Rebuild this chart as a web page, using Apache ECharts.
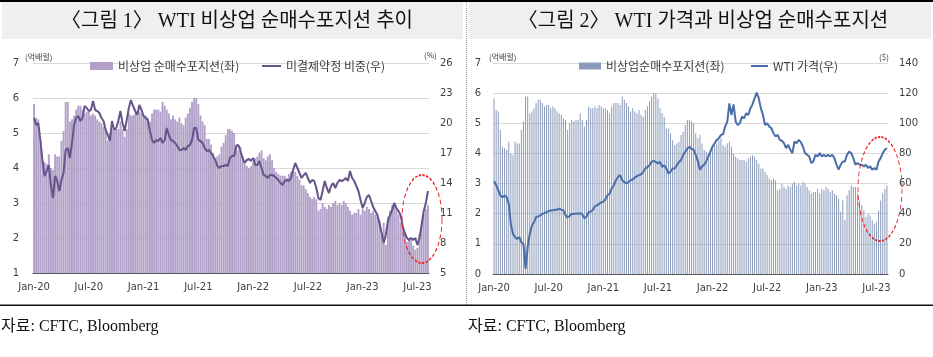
<!DOCTYPE html>
<html>
<head>
<meta charset="utf-8">
<script src="https://cdn.jsdelivr.net/npm/echarts@6/dist/echarts.min.js"></script>
<style>
html,body{margin:0;padding:0;background:#fff;}
#c{width:933px;height:357px;}
</style>
</head>
<body>
<div id="c"></div>
<script>
// ---- data (weekly, from 2020-01-07) ----
const startDate = '2020-01-07';
// 비상업 순매수포지션 (억배럴)
const netPos = [
5.83,5.44,5.39,4.78,4.22,4.17,4.11,4.39,4.00,3.94,4.39,4.33,4.33,4.78,5.06,5.89,5.89,5.33,5.39,5.50,
5.67,5.78,5.78,5.67,5.56,5.61,5.61,5.50,5.56,5.50,5.39,5.33,5.28,5.17,5.11,4.78,5.00,5.11,5.06,5.11,
5.11,5.33,5.11,4.89,5.11,5.56,5.50,5.50,5.56,5.50,5.61,5.56,5.50,5.50,5.44,5.33,5.56,5.67,5.67,5.67,
5.61,5.89,5.78,5.67,5.56,5.39,5.50,5.39,5.33,5.44,5.28,5.22,5.44,5.56,5.72,5.89,6.00,6.00,5.83,5.50,
5.33,5.22,4.83,4.83,4.67,4.44,4.28,4.33,4.39,4.61,4.72,4.94,5.11,5.11,5.06,5.00,4.67,4.50,4.61,4.33,
4.11,4.06,4.00,4.06,4.17,4.28,4.33,4.44,4.50,4.28,4.22,4.33,4.39,4.22,4.00,3.89,3.83,3.78,3.78,3.78,
3.72,3.83,3.89,3.94,3.89,3.78,3.67,3.50,3.50,3.39,3.28,3.17,3.11,3.17,3.11,2.78,2.83,3.00,2.89,2.83,
2.94,2.89,3.00,3.06,2.94,3.00,2.94,3.06,3.00,2.89,2.78,2.67,2.72,2.72,2.83,2.67,2.83,2.78,2.89,2.83,
2.72,2.78,2.67,2.61,2.50,2.07,2.44,1.80,2.61,2.78,2.94,2.89,2.89,2.67,2.44,2.28,2.11,1.89,2.00,1.94,
1.78,1.67,1.72,2.11,2.44,2.67,2.83,2.94
];
// 미결제약정 비중 (%)
const oiShare = [
20.5,19.8,20.0,18.3,16.2,14.7,15.2,15.8,13.8,12.5,14.7,14.2,13.2,14.3,15.0,17.3,17.5,16.5,18.0,19.8,
20.5,20.7,20.2,20.5,21.7,21.5,21.2,21.3,22.2,21.3,21.2,21.0,20.5,20.2,19.3,18.8,18.2,20.2,19.3,19.5,
20.2,21.2,20.0,19.2,20.3,21.5,22.3,21.7,21.2,20.8,21.8,21.3,20.7,20.5,20.3,19.2,18.3,18.0,18.3,18.2,
18.5,18.0,18.3,19.5,18.8,18.3,18.2,18.0,17.7,17.3,17.3,17.5,17.3,17.7,17.8,18.3,19.5,19.5,18.3,18.2,
18.0,17.5,17.2,17.3,17.0,16.7,16.3,15.7,15.5,15.7,15.7,15.8,15.7,16.5,16.7,16.7,17.7,17.8,17.2,16.5,
16.0,16.3,16.4,16.2,16.5,15.8,15.8,16.2,15.5,14.8,14.7,14.5,14.8,14.8,14.7,14.5,14.3,14.0,13.8,14.2,
14.3,14.2,14.5,15.3,16.0,15.5,15.0,14.5,14.8,15.0,14.5,14.0,14.3,14.2,13.5,12.5,12.3,13.2,14.2,13.5,
13.0,13.7,14.0,13.5,14.0,14.3,14.2,14.3,14.5,14.2,15.2,14.5,14.2,13.7,13.2,12.3,11.5,12.0,12.6,12.8,
12.2,11.6,11.2,10.8,10.0,9.0,8.0,8.8,10.2,10.8,11.3,12.0,11.5,11.2,10.8,9.7,9.0,8.5,8.3,8.5,
8.3,8.5,7.8,8.5,9.8,11.2,12.0,13.2
];
// WTI 가격 ($)
const wti = [
61.5,59.0,55.6,52.0,51.0,52.0,51.0,46.7,33.0,26.7,24.4,23.3,24.4,21.0,20.0,3.3,17.8,26.7,32.0,34.4,
37.8,38.2,38.9,40.0,40.4,41.0,41.8,42.2,42.2,42.7,42.7,43.3,42.7,42.2,39.0,37.5,38.5,40.0,39.8,40.2,
40.0,40.4,39.5,37.0,38.0,41.0,41.5,42.5,45.0,45.5,46.5,47.5,48.0,49.5,52.2,53.3,56.7,58.9,62.2,64.4,
65.6,62.2,61.1,60.0,61.1,62.2,62.7,64.0,64.9,65.6,66.2,67.8,70.0,71.1,72.2,74.4,75.1,74.4,73.3,74.4,
71.1,72.2,70.0,66.7,67.8,70.0,70.0,72.2,74.4,75.5,78.9,81.1,83.3,84.4,82.9,82.4,79.1,74.7,69.2,71.4,
72.5,74.7,78.0,81.3,84.6,86.8,89.0,90.1,92.3,92.7,97.8,101.1,113.2,105.5,112.5,101.1,98.9,100.0,104.4,103.3,
106.6,105.5,109.9,112.5,116.5,120.4,116.5,109.9,105.5,98.9,100.0,97.8,96.7,93.4,91.2,92.3,89.0,88.4,86.8,83.5,
85.7,82.4,80.2,87.9,86.8,89.0,87.5,84.6,80.2,79.1,78.0,73.6,74.7,79.1,78.0,80.2,78.0,79.1,78.0,79.1,
78.0,79.1,76.9,72.5,69.2,72.5,74.7,74.7,79.1,81.3,80.2,76.9,72.5,73.6,72.5,72.5,71.4,72.5,70.3,71.4,
69.2,70.3,69.2,74.7,76.9,80.2,82.4,83.5
];
const tickLabels = ['Jan-20','Jul-20','Jan-21','Jul-21','Jan-22','Jul-22','Jan-23','Jul-23'];
const leftTicks1 = [1,7,1];      // min,max,interval (억배럴)
const rightTicks1 = [5,26,3];    // (%)
const leftTicks2 = [0,7,1];      // (억배럴)
const rightTicks2 = [0,140,20];  // ($)

// ---- build ----
const MON = ['Jan','Feb','Mar','Apr','May','Jun','Jul','Aug','Sep','Oct','Nov','Dec'];
const t0 = Date.parse(startDate + 'T00:00:00Z');
const categories = netPos.map((_, i) => new Date(t0 + i * 7 * 86400000).toISOString().slice(0, 10));
function fmt(v) {
  const d = new Date(v + 'T00:00:00Z');
  return MON[d.getUTCMonth()] + '-' + String(d.getUTCFullYear()).slice(2);
}
function isTick(idx, v) {
  const d = new Date(v + 'T00:00:00Z');
  return d.getUTCDate() <= 7 && tickLabels.indexOf(fmt(v)) >= 0;
}

const tickFont = { fontFamily: 'DejaVu Sans', fontSize: 10, color: '#404040' };
const krFont = "'Noto Sans CJK KR', 'DejaVu Sans', sans-serif";
const serifFont = "'Liberation Serif', 'Noto Sans CJK KR', serif";

function xAxis(gi) {
  return {
    type: 'category', gridIndex: gi, data: categories,
    axisLine: { lineStyle: { color: '#595959', width: 1 } },
    axisTick: { interval: isTick, alignWithLabel: true, length: 5, lineStyle: { color: '#595959' } },
    axisLabel: Object.assign({ interval: isTick, formatter: fmt, margin: 9 }, tickFont),
    splitLine: { show: false }
  };
}
function yAxis(gi, t, pos, split, margin) {
  return {
    type: 'value', gridIndex: gi, position: pos, min: t[0], max: t[1], interval: t[2],
    axisLine: { show: false }, axisTick: { show: false },
    axisLabel: Object.assign({ margin: margin }, tickFont),
    splitLine: { show: split, lineStyle: { color: '#d9d9d9', width: 1 } }
  };
}
function legend(name, left, w, h) {
  return {
    data: [name], left: left, top: 60, padding: 0, icon: 'rect',
    itemWidth: w, itemHeight: h, selectedMode: false,
    textStyle: { fontFamily: krFont, fontSize: 12, color: '#404040' }
  };
}
function txt(text, x, y, size, family, align, color) {
  return {
    type: 'text', x: x, y: y, silent: true,
    style: { text: text, fontSize: size, fontFamily: family, fill: color || '#333',
      align: align, verticalAlign: 'middle', textAlign: align, textVerticalAlign: 'middle' }
  };
}
function ellipse(cx, cy, rx, ry) {
  return {
    type: 'circle', x: cx, y: cy, scaleX: rx / ry, silent: true, z: 100,
    shape: { cx: 0, cy: 0, r: ry },
    style: { fill: 'none', stroke: '#e8262a', lineWidth: 2, lineDash: [5, 3], strokeNoScale: true }
  };
}

const chart = echarts.init(document.getElementById('c'), null, { renderer: 'canvas' });
chart.setOption({
  animation: false,
  backgroundColor: '#ffffff',
  grid: [
    { left: 33, top: 63, width: 396, height: 210 },
    { left: 493, top: 63, width: 395, height: 211 }
  ],
  xAxis: [xAxis(0), xAxis(1)],
  yAxis: [
    yAxis(0, leftTicks1, 'left', true, 14),
    yAxis(0, rightTicks1, 'right', false, 11),
    yAxis(1, leftTicks2, 'left', true, 12),
    yAxis(1, rightTicks2, 'right', false, 11)
  ],
  legend: [
    legend('비상업 순매수포지션(좌)', 90, 23, 8),
    legend('미결제약정 비중(우)', 262, 19, 2),
    legend('비상업순매수포지션(좌)', 579, 22, 7),
    legend('WTI 가격(우)', 751, 17, 2)
  ],
  series: [
    { name: '비상업 순매수포지션(좌)', type: 'bar', xAxisIndex: 0, yAxisIndex: 0, data: netPos,
      barCategoryGap: '10%', itemStyle: { color: '#b1a1c8' } },
    { name: '미결제약정 비중(우)', type: 'line', xAxisIndex: 0, yAxisIndex: 1, data: oiShare,
      symbol: 'none', lineStyle: { color: '#65558a', width: 2 }, itemStyle: { color: '#65558a' } },
    { name: '비상업순매수포지션(좌)', type: 'bar', xAxisIndex: 1, yAxisIndex: 2, data: netPos,
      barWidth: 1, itemStyle: { color: '#8a9bba' } },
    { name: 'WTI 가격(우)', type: 'line', xAxisIndex: 1, yAxisIndex: 3, data: wti,
      symbol: 'none', lineStyle: { color: '#4a6ea9', width: 2 }, itemStyle: { color: '#4a6ea9' } }
  ],
  graphic: [
    { type: 'rect', silent: true, shape: { x: 0, y: 0, width: 933, height: 2 }, style: { fill: '#000' } },
    { type: 'rect', silent: true, shape: { x: 2, y: 2, width: 461, height: 37 }, style: { fill: '#efefef' } },
    { type: 'rect', silent: true, shape: { x: 469, y: 2, width: 462, height: 37 }, style: { fill: '#efefef' } },
    { type: 'line', silent: true, shape: { x1: 466.5, y1: 2, x2: 466.5, y2: 305 },
      style: { stroke: '#9a9a9a', lineWidth: 1, lineDash: [1, 1] } },
    { type: 'rect', silent: true, shape: { x: 0, y: 304.5, width: 933, height: 1.5 }, style: { fill: '#111' } },
    txt('〈그림 1〉 WTI 비상업 순매수포지션 추이', 237, 22, 20, serifFont, 'center', '#111'),
    txt('〈그림 2〉 WTI 가격과 비상업 순매수포지션', 703, 22, 20, serifFont, 'center', '#111'),
    txt('(억배럴)', 25, 57, 8, krFont, 'left', '#404040'),
    txt('(%)', 424, 55, 8, krFont, 'left', '#404040'),
    txt('(억배럴)', 489, 57, 8, krFont, 'left', '#404040'),
    txt('($)', 879, 57, 8, krFont, 'left', '#404040'),
    txt('자료: CFTC, Bloomberg', 1, 327, 16, serifFont, 'left', '#111'),
    txt('자료: CFTC, Bloomberg', 468, 327, 16, serifFont, 'left', '#111'),
    ellipse(422, 219, 20, 44),
    ellipse(880, 189, 22, 52)
  ]
});
</script>
</body>
</html>
